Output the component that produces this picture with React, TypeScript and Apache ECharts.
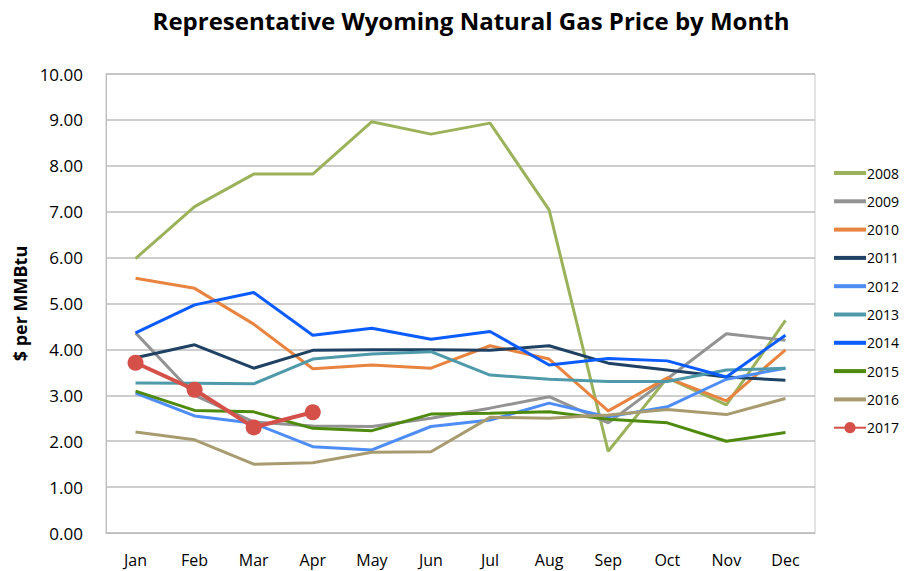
import React, { useEffect, useRef } from "react";
import * as echarts from "echarts";

const months = ["Jan", "Feb", "Mar", "Apr", "May", "Jun", "Jul", "Aug", "Sep", "Oct", "Nov", "Dec"];
const years = ["2008", "2009", "2010", "2011", "2012", "2013", "2014", "2015", "2016", "2017"];
const colors = ["#9BB25B", "#939393", "#E8843F", "#1F4163", "#4D8DF5", "#4F9AAA", "#0A5CFF", "#4E8A0E", "#A99B70", "#D6504A"];

const v2008 = [5.98, 7.11, 7.82, 7.82, 8.96, 8.69, 8.93, 7.04, 1.78, 3.38, 2.79, 4.63];
const v2009 = [4.36, 3.0, 2.42, 2.33, 2.32, 2.5, 2.72, 2.97, 2.4, 3.36, 4.34, 4.2];
const v2010 = [5.55, 5.33, 4.55, 3.58, 3.66, 3.59, 4.08, 3.79, 2.66, 3.38, 2.88, 3.99];
const v2011 = [3.82, 4.1, 3.59, 3.98, 3.99, 3.99, 3.98, 4.08, 3.7, 3.55, 3.4, 3.33];
const v2012 = [3.05, 2.55, 2.39, 1.88, 1.81, 2.32, 2.46, 2.83, 2.53, 2.75, 3.35, 3.59];
const v2013 = [3.27, 3.26, 3.25, 3.79, 3.9, 3.95, 3.44, 3.35, 3.3, 3.3, 3.55, 3.59];
const v2014 = [4.36, 4.97, 5.24, 4.31, 4.46, 4.22, 4.39, 3.66, 3.8, 3.75, 3.4, 4.31];
const v2015 = [3.09, 2.67, 2.64, 2.28, 2.23, 2.59, 2.61, 2.64, 2.48, 2.4, 2.0, 2.19];
const v2016 = [2.2, 2.03, 1.5, 1.53, 1.76, 1.77, 2.52, 2.5, 2.57, 2.69, 2.58, 2.93];
const v2017 = [3.71, 3.12, 2.3, 2.63];

const seriesValues = [v2008, v2009, v2010, v2011, v2012, v2013, v2014, v2015, v2016, v2017];

export default function App() {
  const ref = useRef<HTMLDivElement>(null);
  useEffect(() => {
    if (!ref.current) return;
    const chart = echarts.init(ref.current, null, { renderer: "svg" });
    const font = "'Open Sans', 'Noto Sans', sans-serif";
    chart.setOption({
      animation: false,
      textStyle: { fontFamily: font },
      title: {
        text: "Representative Wyoming Natural Gas Price by Month",
        left: 466,
        textAlign: "center",
        top: 3,
        textStyle: { fontSize: 24, fontWeight: "bold", color: "#000", fontFamily: font },
      },
      grid: {
        left: 106,
        right: 89,
        top: 74,
        bottom: 38,
        show: true,
        borderColor: "#c8c8c8",
        borderWidth: 1,
      },
      legend: {
        orient: "vertical",
        left: 828,
        top: 161,
        itemWidth: 32,
        itemHeight: 14,
        itemGap: 14.3,
        textStyle: { fontSize: 14, color: "#000", padding: [0, 0, 0, -4] },
        data: years.map((y, i) => ({
          name: y,
          icon: i === 9 ? undefined : "path://M0,0 L32,0 L32,4 L0,4 Z",
        })),
      },
      xAxis: {
        type: "category",
        data: months,
        boundaryGap: true,
        axisLine: { show: true, lineStyle: { color: "#bdbdbd" } },
        axisTick: { show: false },
        axisLabel: { fontSize: 16, color: "#000", margin: 19 },
      },
      yAxis: {
        type: "value",
        min: 0,
        max: 10,
        interval: 1,
        name: "$ per MMBtu",
        nameLocation: "middle",
        nameGap: 72,
        nameRotate: 90,
        nameTextStyle: { fontSize: 18, fontWeight: "bold", color: "#000" },
        axisLine: { show: true, lineStyle: { color: "#bdbdbd" } },
        axisTick: { show: false },
        axisLabel: { fontSize: 17, color: "#000", margin: 23, formatter: (v: number) => v.toFixed(2) },
        splitLine: { lineStyle: { color: "#bdbdbd", width: 1.5 } },
      },
      series: years.map((y, i) => ({
        name: y,
        type: "line",
        data: seriesValues[i],
        color: colors[i],
        lineStyle: { width: i === 9 ? 4 : 3, color: colors[i] },
        itemStyle: { color: colors[i] },
        symbol: i === 9 ? "circle" : "none",
        symbolSize: 16,
        showSymbol: i === 9,
        z: i === 9 ? 5 : 2,
      })),
    });
    return () => chart.dispose();
  }, []);
  return <div ref={ref} style={{ width: 904, height: 571, position: "absolute", left: 0, top: 0 }} />;
}
